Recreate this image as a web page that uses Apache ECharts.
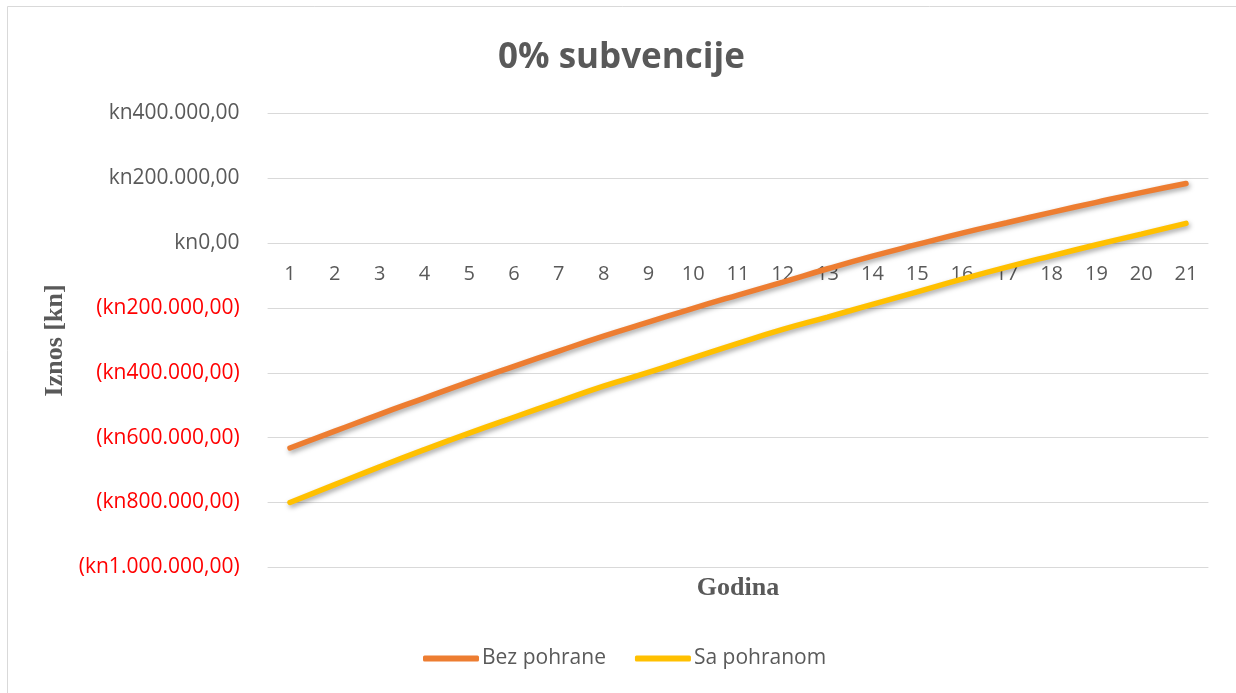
<!DOCTYPE html>
<html>
<head>
<meta charset="utf-8">
<script src="https://cdn.jsdelivr.net/npm/echarts@6/dist/echarts.min.js"></script>
<style>
  html, body { margin: 0; padding: 0; background: #ffffff; }
  #chart { width: 1236px; height: 693px; }
</style>
</head>
<body>
<div id="chart"></div>
<script>
// Years of the investment period
const years = ['1','2','3','4','5','6','7','8','9','10','11','12','13','14','15','16','17','18','19','20','21'];

// Cumulative amount per year, in kn
const bezPohrane = [-632000, -580000, -528000, -478000, -428000, -380000, -333000, -287000, -244000, -201000,
  -160000, -120000, -79000, -40000, -4000, 31000, 63000, 95000, 126000, 156000, 184000];
const saPohranom = [-800000, -745000, -690000, -637000, -586000, -537000, -489000, -441000, -399000, -354000,
  -309000, -266000, -228000, -189000, -150000, -111000, -74000, -39000, -5000, 28000, 61000];

// Value axis range
const yMin = -1000000;
const yMax = 400000;
const yStep = 200000;

const seriesNames = ['Bez pohrane', 'Sa pohranom'];
const seriesColors = ['#ED7D31', '#FFC000'];

const textGray = '#595959';
const gridGray = '#d9d9d9';

const gridBox = { left: 267.6, right: 27.6, top: 113.5, bottom: 125.7 };

// Croatian currency style: kn1.234.567,00, negatives in parentheses
function formatKn(v) {
  const abs = Math.abs(v);
  const intPart = Math.round(abs).toString().replace(/\B(?=(\d{3})+(?!\d))/g, '.');
  const s = 'kn' + intPart + ',00';
  return v < 0 ? '(' + s + ')' : s;
}

const chart = echarts.init(document.getElementById('chart'), null, { renderer: 'canvas' });
const W = chart.getWidth();
const H = chart.getHeight();

// Lift the category axis from the bottom of the plot up to the zero line
const plotH = H - gridBox.top - gridBox.bottom;
const zeroOffset = -plotH * (0 - yMin) / (yMax - yMin);

const lineSeries = (name, data, color) => ({
  name: name,
  type: 'line',
  data: data,
  smooth: true,
  symbol: 'none',
  lineStyle: {
    width: 5.5,
    color: color,
    cap: 'round',
    shadowColor: 'rgba(0,0,0,0.35)',
    shadowBlur: 5,
    shadowOffsetX: 1.5,
    shadowOffsetY: 2.5
  },
  itemStyle: { color: color },
  emphasis: { disabled: true }
});

chart.setOption({
  animation: false,
  backgroundColor: '#ffffff',
  title: {
    text: '0% subvencije',
    left: 493,
    top: 36,
    textStyle: {
      fontFamily: 'Open Sans',
      fontWeight: 'bold',
      fontSize: 35,
      color: textGray
    }
  },
  graphic: [{
    type: 'rect',
    shape: { x: 7.5, y: 6.5, width: 1260, height: 720 },
    style: { fill: 'none', stroke: gridGray, lineWidth: 1 },
    silent: true
  }, {
    // x-axis title, centred under the plot area
    type: 'text',
    x: gridBox.left + (W - gridBox.left - gridBox.right) / 2,
    y: H - gridBox.bottom + 21,
    style: {
      text: 'Godina',
      fontFamily: 'Liberation Serif',
      fontWeight: 'bold',
      fontSize: 26,
      fill: textGray,
      align: 'center',
      verticalAlign: 'middle'
    },
    silent: true
  }],
  legend: {
    bottom: 19,
    left: 418,
    icon: 'roundRect',
    itemWidth: 56,
    itemHeight: 6,
    itemGap: 29,
    data: seriesNames,
    textStyle: {
      fontFamily: 'Open Sans',
      fontSize: 21,
      color: textGray,
      padding: [0, 0, 0, -2]
    }
  },
  grid: {
    left: gridBox.left,
    right: gridBox.right,
    top: gridBox.top,
    bottom: gridBox.bottom,
    containLabel: false
  },
  xAxis: {
    type: 'category',
    data: years,
    boundaryGap: true,
    position: 'bottom',
    offset: zeroOffset,
    axisLine: { show: false, onZero: false },
    axisTick: { show: false },
    axisLabel: {
      margin: 21,
      fontFamily: 'Open Sans',
      fontSize: 20,
      color: textGray
    },
    splitLine: { show: false }
  },
  yAxis: {
    type: 'value',
    min: yMin,
    max: yMax,
    interval: yStep,
    name: 'Iznos [kn]',
    nameLocation: 'middle',
    nameRotate: 90,
    nameGap: 196,
    nameTextStyle: {
      fontFamily: 'Liberation Serif',
      fontWeight: 'bold',
      fontSize: 26,
      color: textGray
    },
    axisLine: { show: false },
    axisTick: { show: false },
    axisLabel: {
      margin: 28,
      fontFamily: 'Open Sans',
      fontSize: 21,
      formatter: formatKn,
      color: function (value) {
        return value < 0 ? '#FF0000' : textGray;
      }
    },
    splitLine: { show: true, lineStyle: { color: gridGray, width: 1 } }
  },
  series: [
    lineSeries(seriesNames[0], bezPohrane, seriesColors[0]),
    lineSeries(seriesNames[1], saPohranom, seriesColors[1])
  ]
});
</script>
</body>
</html>
